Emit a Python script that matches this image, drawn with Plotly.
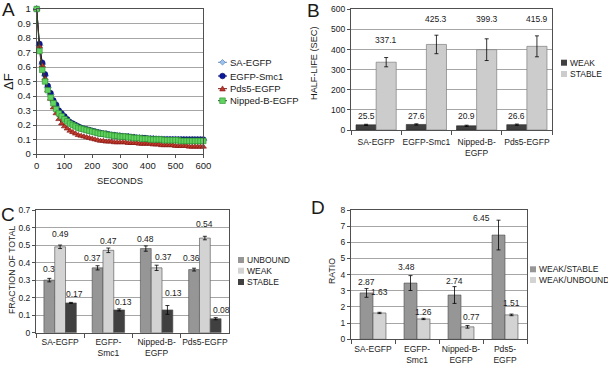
import plotly.graph_objects as go

W, H = 608, 365
FONT = "Liberation Sans, Arial, sans-serif"
TXT = "#1a1a1a"


def px(x):
    return x / W


def py(y):
    return 1 - y / H


# ---------------- Panel A data ----------------
seconds = list(range(0, 601, 10))
sa_egfp = [1, 0.75, 0.62, 0.54, 0.46, 0.41, 0.36, 0.33, 0.295, 0.27, 0.25,
           0.23, 0.215, 0.205, 0.195, 0.185, 0.178, 0.172, 0.166, 0.16, 0.155,
           0.15, 0.146, 0.142, 0.139, 0.136, 0.133, 0.13, 0.127, 0.125, 0.123,
           0.121, 0.12, 0.118, 0.116, 0.114, 0.112, 0.11, 0.108, 0.107, 0.106,
           0.105, 0.104, 0.103, 0.102, 0.101, 0.1, 0.1, 0.099, 0.099, 0.098,
           0.098, 0.097, 0.097, 0.096, 0.096, 0.096, 0.095, 0.095, 0.095, 0.095]
egfp_smc1 = [1, 0.76, 0.63, 0.55, 0.47, 0.42, 0.37, 0.34, 0.30, 0.28, 0.26,
             0.24, 0.22, 0.21, 0.20, 0.19, 0.18, 0.175, 0.17, 0.165, 0.16,
             0.155, 0.15, 0.145, 0.14, 0.14, 0.135, 0.13, 0.13, 0.125, 0.125,
             0.12, 0.12, 0.12, 0.115, 0.115, 0.11, 0.11, 0.11, 0.11, 0.105,
             0.105, 0.105, 0.10, 0.10, 0.10, 0.10, 0.10, 0.10, 0.10, 0.10,
             0.10, 0.10, 0.10, 0.10, 0.10, 0.10, 0.10, 0.10, 0.10, 0.10]
pds5_egfp = [1, 0.74, 0.61, 0.52, 0.44, 0.38, 0.32, 0.28, 0.24, 0.21, 0.19,
             0.175, 0.16, 0.15, 0.14, 0.13, 0.125, 0.12, 0.115, 0.11, 0.105,
             0.10, 0.095, 0.09, 0.09, 0.085, 0.085, 0.085, 0.08, 0.08, 0.08,
             0.08, 0.08, 0.075, 0.075, 0.075, 0.075, 0.07, 0.07, 0.07, 0.07,
             0.07, 0.065, 0.065, 0.065, 0.06, 0.06, 0.06, 0.06, 0.06, 0.055,
             0.055, 0.055, 0.055, 0.055, 0.05, 0.05, 0.05, 0.05, 0.05, 0.05]
nipped_b_egfp = [1, 0.71, 0.58, 0.50, 0.44, 0.39, 0.35, 0.31, 0.28, 0.26, 0.24,
                 0.225, 0.21, 0.20, 0.19, 0.18, 0.175, 0.17, 0.165, 0.16, 0.155,
                 0.15, 0.145, 0.14, 0.14, 0.135, 0.13, 0.13, 0.125, 0.125, 0.12,
                 0.12, 0.12, 0.115, 0.115, 0.11, 0.11, 0.11, 0.105, 0.105, 0.105,
                 0.10, 0.10, 0.10, 0.10, 0.10, 0.095, 0.095, 0.095, 0.095, 0.095,
                 0.095, 0.09, 0.09, 0.09, 0.09, 0.09, 0.09, 0.09, 0.09, 0.09]

# ---------------- Panel B data ----------------
constructs = ["SA-EGFP", "EGFP-Smc1", "Nipped-B-EGFP", "Pds5-EGFP"]
b_ticklabels = ["SA-EGFP", "EGFP-Smc1", "Nipped-B-<br>EGFP", "Pds5-EGFP"]
b_weak = [25.5, 27.6, 20.9, 26.6]
b_weak_err = [3, 3, 3, 3]
b_stable = [337.1, 425.3, 399.3, 415.9]
b_stable_err = [23, 46, 54, 52]

# ---------------- Panel C data ----------------
c_ticklabels = ["SA-EGFP", "EGFP-<br>Smc1", "Nipped-B-<br>EGFP", "Pds5-EGFP"]
c_unbound = [0.30, 0.37, 0.48, 0.36]
c_unbound_err = [0.010, 0.012, 0.015, 0.008]
c_weak = [0.49, 0.47, 0.37, 0.54]
c_weak_err = [0.010, 0.013, 0.015, 0.010]
c_stable = [0.17, 0.13, 0.13, 0.08]
c_stable_err = [0.003, 0.006, 0.025, 0.006]

# ---------------- Panel D data ----------------
d_ticklabels = ["SA-EGFP", "EGFP-<br>Smc1", "Nipped-B-<br>EGFP", "Pds5-<br>EGFP"]
d_weak_stable = [2.87, 3.48, 2.74, 6.45]
d_weak_stable_err = [0.27, 0.46, 0.52, 0.92]
d_weak_unbound = [1.63, 1.26, 0.77, 1.51]
d_weak_unbound_err = [0.04, 0.04, 0.08, 0.05]

# ---------------- label placement (layout only) ----------------
b_weak_label_y = [71, 71, 71, 71]
b_stable_label_y = [448, 552, 552, 552]
c_unbound_label_y = [0.362, 0.429, 0.535, 0.425]
c_weak_label_y = [0.562, 0.526, 0.431, 0.621]
c_stable_label_y = [0.221, 0.177, 0.225, 0.130]
c_unbound_dx = [0, -5, 0, -3]
c_weak_dx = [0, 0, 7, 0]
c_stable_dx = [4, 4, 6, 6]
d_ws_label_y = [3.56, 4.49, 3.63, 7.48]
d_wu_label_y = [2.94, 1.71, 1.36, 2.26]
d_ws_dx = [0, -4, 0, -17]
d_wu_dx = [0, 0, 4, 0]

fig = go.Figure()

# ---------------- Panel A traces ----------------
series_a = [
    ("SA-EGFP", sa_egfp, "diamond", "#9cc3ec", "#4a72b0", "#6f8fb8"),
    ("EGFP-Smc1", egfp_smc1, "circle", "#0a1a9a", "#000066", "#000066"),
    ("Pds5-EGFP", pds5_egfp, "triangle-up", "#c0392b", "#7a1010", "#7a1010"),
    ("Nipped-B-EGFP", nipped_b_egfp, "square", "#5fd35f", "#2e8b2e", "#1f4f1f"),
]
for name, vals, sym, fill, edge, lc in series_a:
    fig.add_trace(go.Scatter(
        x=seconds, y=vals, name=name, mode="lines+markers",
        line=dict(color=lc, width=1),
        marker=dict(symbol=sym, size=5.5, color=fill, line=dict(color=edge, width=0.6)),
        xaxis="x", yaxis="y", showlegend=False, cliponaxis=False))

# ---------------- Panel B traces ----------------
err_style = dict(type="data", color="#000000", thickness=0.8, width=2)
fig.add_trace(go.Bar(x=constructs, y=b_weak, width=0.4, offset=-0.4,
                     marker=dict(color="#404040", line=dict(color="#262626", width=0.6)),
                     error_y=dict(array=b_weak_err, **err_style),
                     xaxis="x2", yaxis="y2", showlegend=False, name="WEAK"))
fig.add_trace(go.Bar(x=constructs, y=b_stable, width=0.4, offset=0.0,
                     marker=dict(color="#cccccc", line=dict(color="#7f7f7f", width=0.7)),
                     error_y=dict(array=b_stable_err, **err_style),
                     xaxis="x2", yaxis="y2", showlegend=False, name="STABLE"))

# ---------------- Panel C traces ----------------
cw = 0.224
c_sets = [
    ("UNBOUND", c_unbound, c_unbound_err, "#969696", -1.5 * cw),
    ("WEAK", c_weak, c_weak_err, "#d3d3d3", -0.5 * cw),
    ("STABLE", c_stable, c_stable_err, "#404040", 0.5 * cw),
]
for name, vals, errs, col, off in c_sets:
    fig.add_trace(go.Bar(x=constructs, y=vals, width=cw, offset=off,
                         marker=dict(color=col, line=dict(color="#4d4d4d", width=0.6)),
                         error_y=dict(array=errs, **err_style),
                         xaxis="x3", yaxis="y3", showlegend=False, name=name))

# ---------------- Panel D traces ----------------
dw = 0.295
fig.add_trace(go.Bar(x=constructs, y=d_weak_stable, width=dw, offset=-dw,
                     marker=dict(color="#969696", line=dict(color="#4d4d4d", width=0.6)),
                     error_y=dict(array=d_weak_stable_err, **err_style),
                     xaxis="x4", yaxis="y4", showlegend=False, name="WEAK/STABLE"))
fig.add_trace(go.Bar(x=constructs, y=d_weak_unbound, width=dw, offset=0.0,
                     marker=dict(color="#d3d3d3", line=dict(color="#4d4d4d", width=0.6)),
                     error_y=dict(array=d_weak_unbound_err, **err_style),
                     xaxis="x4", yaxis="y4", showlegend=False, name="WEAK/UNBOUND"))

# ---------------- Axes ----------------
frame = dict(showline=True, mirror=True, linecolor="#505050", linewidth=1,
             zeroline=False, ticks="outside", tickcolor="#505050", ticklen=3,
             automargin=False,
             tickfont=dict(family=FONT, size=8.5, color=TXT))
grid = dict(showgrid=True, gridcolor="#a6a6a6", gridwidth=1)


def cat_axis(dom, labels, standoff):
    return dict(domain=dom, type="category", categoryorder="array", categoryarray=constructs,
                tickvals=constructs, ticktext=labels, range=[-0.5, 3.5], tickson="boundaries",
                tickangle=0, showgrid=False, ticklen=4, ticklabelstandoff=standoff,
                **{k: v for k, v in frame.items() if k != "ticklen"})


fig.update_layout(
    width=W, height=H, margin=dict(l=0, r=0, t=0, b=0, autoexpand=False),
    paper_bgcolor="white", plot_bgcolor="white",
    barmode="overlay", showlegend=False, hovermode=False,
    font=dict(family=FONT, size=8.5, color=TXT),
    xaxis=dict(domain=[px(36.7), px(203.3)], range=[0, 600], dtick=100, showgrid=False,
               **{**frame, "tickfont": dict(family=FONT, size=9.5, color=TXT)}),
    yaxis=dict(domain=[py(154), py(9)], range=[0, 1], dtick=0.1, anchor="x",
               **grid, **{**frame, "tickfont": dict(family=FONT, size=9.5, color=TXT)}),
    xaxis2=dict(anchor="y2", **cat_axis([px(351), px(552)], b_ticklabels, 4)),
    yaxis2=dict(domain=[py(130), py(9.3)], range=[0, 600], dtick=100, anchor="x2", **grid, **frame),
    xaxis3=dict(anchor="y3", **cat_axis([px(36), px(229)], c_ticklabels, 1)),
    yaxis3=dict(domain=[py(332.7), py(210)], range=[0, 0.7], dtick=0.1, anchor="x3", **grid, **frame),
    xaxis4=dict(anchor="y4", **cat_axis([px(351), px(527)], d_ticklabels, 1)),
    yaxis4=dict(domain=[py(339.3), py(210)], range=[0, 8], dtick=1, anchor="x4", **grid, **frame),
)

ann = []


def label(text, x, y, xref, yref, size=8.5, dx=0, angle=0):
    ann.append(dict(text=text, x=x, y=y, xref=xref, yref=yref, showarrow=False,
                    xanchor="center", yanchor="middle",
                    xshift=dx, textangle=angle,
                    font=dict(family=FONT, size=size, color=TXT)))


# value labels B
for i in range(4):
    label(f"{b_weak[i]:.1f}", i - 0.2, b_weak_label_y[i], "x2", "y2")
    label(f"{b_stable[i]:.1f}", i + 0.2, b_stable_label_y[i], "x2", "y2")
# value labels C
for i in range(4):
    label(f"{c_unbound[i]:g}", i - cw, c_unbound_label_y[i], "x3", "y3", dx=c_unbound_dx[i])
    label(f"{c_weak[i]:g}", i, c_weak_label_y[i], "x3", "y3", dx=c_weak_dx[i])
    label(f"{c_stable[i]:g}", i + cw, c_stable_label_y[i], "x3", "y3", dx=c_stable_dx[i])
# value labels D
for i in range(4):
    label(f"{d_weak_stable[i]:g}", i - dw / 2, d_ws_label_y[i], "x4", "y4", dx=d_ws_dx[i])
    label(f"{d_weak_unbound[i]:g}", i + dw / 2, d_wu_label_y[i], "x4", "y4", dx=d_wu_dx[i])

# axis titles
label("ΔF", px(9), py(82), "paper", "paper", size=13, angle=-90)
label("SECONDS", px(120), py(181), "paper", "paper", size=9.3)
label("HALF-LIFE (SEC)", px(314), py(63), "paper", "paper", size=9.2, angle=-90)
label("FRACTION OF TOTAL", px(12), py(270), "paper", "paper", size=8.7, angle=-90)
label("RATIO", px(332), py(271), "paper", "paper", size=8.7, angle=-90)

# panel letters
for t, x, y in [("A", 8, 9), ("B", 313, 10), ("C", 8, 214), ("D", 318, 207)]:
    label(t, px(x), py(y), "paper", "paper", size=19)

# ---------------- manual legends ----------------
shapes = []


def leg_text(text, x, y, size):
    ann.append(dict(text=text, x=px(x), y=py(y), xref="paper", yref="paper", showarrow=False,
                    xanchor="left", yanchor="middle",
                    font=dict(family=FONT, size=size, color=TXT)))


def leg_square(x, y, col, s=6):
    shapes.append(dict(type="rect", xref="paper", yref="paper",
                       x0=px(x), x1=px(x + s), y0=py(y - s / 2), y1=py(y + s / 2),
                       fillcolor=col, line=dict(width=0)))


def leg_marker(kind, cx, cy, fill, edge, s=2.8):
    base = dict(xref="paper", yref="paper", xsizemode="pixel", ysizemode="pixel",
                xanchor=px(cx), yanchor=py(cy), fillcolor=fill, line=dict(color=edge, width=0.6))
    if kind == "circle":
        shapes.append(dict(type="circle", x0=-s, x1=s, y0=-s, y1=s, **base))
    elif kind == "square":
        shapes.append(dict(type="rect", x0=-s, x1=s, y0=-s, y1=s, **base))
    elif kind == "diamond":
        shapes.append(dict(type="path", path=f"M0,{s}L{s},0L0,{-s}L{-s},0Z", **base))
    else:
        shapes.append(dict(type="path", path=f"M{-s},{-s * 0.8}L{s},{-s * 0.8}L0,{s}Z", **base))


kind_map = {"diamond": "diamond", "circle": "circle", "triangle-up": "tri", "square": "square"}
for k, (name, vals, sym, fill, edge, lc) in enumerate(series_a):
    yy = [62.3, 76, 88.7, 100.7][k]
    shapes.append(dict(type="line", xref="paper", yref="paper", x0=px(218), x1=px(227),
                       y0=py(yy), y1=py(yy), line=dict(color=lc, width=1)))
    leg_marker(kind_map[sym], 222.5, yy, fill, edge)
    leg_text(name, 228, yy, 9.5)

for name, col, yy in [("WEAK", "#404040", 62.7), ("STABLE", "#cccccc", 74)]:
    leg_square(561, yy, col)
    leg_text(name, 567.5, yy, 8.5)

for name, col, yy in [("UNBOUND", "#969696", 260), ("WEAK", "#d3d3d3", 270.7), ("STABLE", "#404040", 282)]:
    leg_square(238, yy, col)
    leg_text(name, 244.5, yy, 8.5)

for name, col, yy in [("WEAK/STABLE", "#969696", 269.3), ("WEAK/UNBOUND", "#d3d3d3", 280)]:
    leg_square(530, yy, col)
    leg_text(name, 536.5, yy, 8.5)

fig.update_layout(annotations=ann, shapes=shapes)
fig.write_html("out.html", config={"displayModeBar": False},
               post_script="document.body.style.margin='0px';document.body.style.overflow='hidden';")
